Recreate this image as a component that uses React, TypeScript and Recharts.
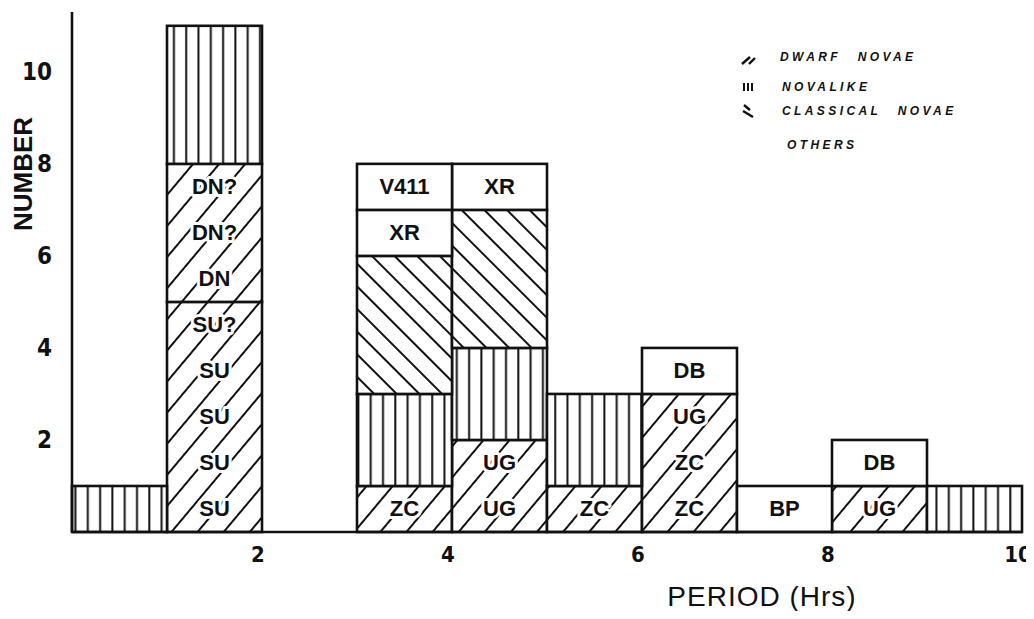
import React from 'react'
import { BarChart, Bar, XAxis, YAxis } from 'recharts'

// one bin per hour of orbital period
const bins = ['0-1', '1-2', '2-3', '3-4', '4-5', '5-6', '6-7', '7-8', '8-9', '9-10']

// dwarf novae, split in two blocks where the figure draws a dividing line
const dwarfA = [0, 5, 0, 1, 2, 1, 3, 0, 1, 0]
const dwarfALabels = [[], ['SU', 'SU', 'SU', 'SU', 'SU?'], [], ['ZC'], ['UG', 'UG'], ['ZC'], ['ZC', 'ZC', 'UG'], [], ['UG'], []]
const dwarfB = [0, 3, 0, 0, 0, 0, 0, 0, 0, 0]
const dwarfBLabels = [[], ['DN', 'DN?', 'DN?'], [], [], [], [], [], [], [], []]

const novalike = [1, 3, 0, 2, 2, 2, 0, 0, 0, 1]
const classical = [0, 0, 0, 3, 3, 0, 0, 0, 0, 0]

const othersA = [0, 0, 0, 1, 1, 0, 1, 1, 1, 0]
const othersALabels = [[], [], [], ['XR'], ['XR'], [], ['DB'], ['BP'], ['DB'], []]
const othersB = [0, 0, 0, 1, 0, 0, 0, 0, 0, 0]
const othersBLabels = [[], [], [], ['V411'], [], [], [], [], [], []]

// hour marks shown under the right edge of a bin
const xTicks = [2, 4, 6, 8, 10]
const yTicks = [2, 4, 6, 8, 10]

const data = bins.map((bin, i) => ({
  bin,
  dwarfA: dwarfA[i],
  dwarfB: dwarfB[i],
  novalike: novalike[i],
  classical: classical[i],
  othersA: othersA[i],
  othersB: othersB[i],
}))

const ink = '#111'
const sans = "'Liberation Sans', Arial, sans-serif"
const narrow = "'Liberation Sans Narrow', 'DejaVu Sans Condensed', sans-serif"
const binWidth = 95

function makeShape(fill: string, labels: string[][]) {
  return (props: any) => {
    const { x, y, width, height, index } = props
    if (!height || height <= 0) return <g />
    const names = labels[index] || []
    const step = height / Math.max(names.length, 1)
    return (
      <g>
        <rect x={x} y={y} width={width} height={height} fill={fill} stroke={ink} strokeWidth={2.6} />
        {names.map((t, i) => (
          <text
            key={i}
            x={x + width / 2}
            y={y + height - step * (i + 0.5)}
            textAnchor="middle"
            dominantBaseline="central"
            fontSize={22}
            fontWeight="bold"
            fontFamily={sans}
            fill={ink}
            stroke="#fff"
            strokeWidth={6}
            strokeLinejoin="round"
            paintOrder="stroke"
          >
            {t}
          </text>
        ))}
      </g>
    )
  }
}

function XTick(props: any) {
  const { x, y, payload } = props
  const upper = payload.index + 1
  if (!xTicks.includes(upper)) return <g />
  return (
    <text
      x={x + binWidth / 2 - 4}
      y={y + 28}
      textAnchor="middle"
      fontSize={22}
      fontWeight="bold"
      fontFamily={narrow}
      fill={ink}
    >
      {upper}
    </text>
  )
}

function Patterns() {
  return (
    <svg width={0} height={0} style={{ position: 'absolute' }}>
      <defs>
        <pattern id="dwarf" patternUnits="userSpaceOnUse" width={20} height={20} patternTransform="rotate(40)">
          <rect width={20} height={20} fill="#fff" />
          <line x1={2} y1={0} x2={2} y2={20} stroke={ink} strokeWidth={2} />
        </pattern>
        <pattern id="novalike" patternUnits="userSpaceOnUse" width={12.3} height={20}>
          <rect width={12.3} height={20} fill="#fff" />
          <line x1={6} y1={0} x2={6} y2={20} stroke={ink} strokeWidth={2} />
        </pattern>
        <pattern id="classical" patternUnits="userSpaceOnUse" width={16} height={16} patternTransform="rotate(-45)">
          <rect width={16} height={16} fill="#fff" />
          <line x1={2} y1={0} x2={2} y2={16} stroke={ink} strokeWidth={2} />
        </pattern>
      </defs>
    </svg>
  )
}

const legendText: React.CSSProperties = {
  position: 'absolute',
  fontFamily: sans,
  fontWeight: 'bold',
  fontStyle: 'italic',
  fontSize: 12,
  letterSpacing: 3.4,
  wordSpacing: 10,
  color: ink,
  whiteSpace: 'nowrap',
  lineHeight: '12px',
}

function LegendBlock() {
  return (
    <div style={{ position: 'absolute', left: 0, top: 0 }}>
      <svg width={16} height={12} style={{ position: 'absolute', left: 733, top: 45 }}>
        <line x1={1} y1={11} x2={9} y2={4} stroke={ink} strokeWidth={2.4} />
        <line x1={8} y1={11} x2={14} y2={5} stroke={ink} strokeWidth={2.4} />
      </svg>
      <span style={{ ...legendText, left: 772, top: 43 }}>DWARF NOVAE</span>
      <svg width={16} height={12} style={{ position: 'absolute', left: 733, top: 73 }}>
        <line x1={3} y1={2} x2={3} y2={10} stroke={ink} strokeWidth={2} />
        <line x1={7} y1={2} x2={7} y2={10} stroke={ink} strokeWidth={2} />
        <line x1={11} y1={2} x2={11} y2={10} stroke={ink} strokeWidth={2} />
      </svg>
      <span style={{ ...legendText, left: 774, top: 73 }}>NOVALIKE</span>
      <svg width={16} height={14} style={{ position: 'absolute', left: 733, top: 96 }}>
        <line x1={3} y1={1} x2={9} y2={6} stroke={ink} strokeWidth={2.4} />
        <line x1={2} y1={7} x2={12} y2={13} stroke={ink} strokeWidth={2.4} />
      </svg>
      <span style={{ ...legendText, left: 774, top: 97 }}>CLASSICAL NOVAE</span>
      <span style={{ ...legendText, left: 779, top: 131 }}>OTHERS</span>
    </div>
  )
}

export default function App() {
  return (
    <div style={{ position: 'relative', width: 1026, height: 603 }}>
      <Patterns />
      <BarChart
        width={1026}
        height={603}
        data={data}
        margin={{ top: 4, right: 12, left: 0, bottom: 0 }}
        barCategoryGap={0}
        barGap={0}
      >
        <XAxis
          dataKey="bin"
          interval={0}
          height={79}
          tickLine={false}
          tickSize={0}
          tick={<XTick />}
          axisLine={{ stroke: ink, strokeWidth: 2.6 }}
          label={() => (
            <text x={754} y={588} textAnchor="middle" dominantBaseline="central" fontSize={28} fontFamily={sans} fill={ink} letterSpacing={1}>
              PERIOD (Hrs)
            </text>
          )}
        />
        <YAxis
          domain={[0, 11.3]}
          ticks={yTicks}
          width={64}
          tickLine={false}
          tickSize={0}
          tickMargin={20}
          axisLine={{ stroke: ink, strokeWidth: 2.6 }}
          tick={{ fill: ink, fontSize: 24, fontWeight: 'bold', fontFamily: narrow }}
          label={() => (
            <text x={15} y={166} textAnchor="middle" dominantBaseline="central" fontSize={26} fontWeight="bold" fontFamily={sans} fill={ink} transform="rotate(-90 15 166)">
              NUMBER
            </text>
          )}
        />
        <Bar dataKey="dwarfA" stackId="s" shape={makeShape('url(#dwarf)', dwarfALabels)} isAnimationActive={false} />
        <Bar dataKey="dwarfB" stackId="s" shape={makeShape('url(#dwarf)', dwarfBLabels)} isAnimationActive={false} />
        <Bar dataKey="novalike" stackId="s" shape={makeShape('url(#novalike)', [])} isAnimationActive={false} />
        <Bar dataKey="classical" stackId="s" shape={makeShape('url(#classical)', [])} isAnimationActive={false} />
        <Bar dataKey="othersA" stackId="s" shape={makeShape('#fff', othersALabels)} isAnimationActive={false} />
        <Bar dataKey="othersB" stackId="s" shape={makeShape('#fff', othersBLabels)} isAnimationActive={false} />
      </BarChart>
      <LegendBlock />
    </div>
  )
}
